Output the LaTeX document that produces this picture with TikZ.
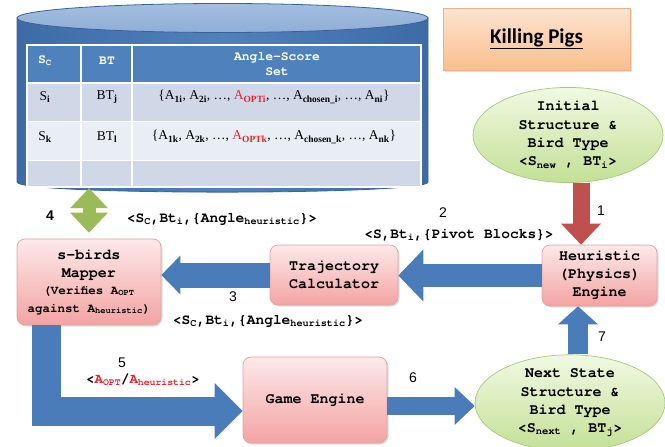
\documentclass[tikz,border=0pt]{standalone}
\usepackage{fontspec}
\setmainfont{TeX Gyre Cursor}
\newfontfamily\rmser{Liberation Serif}
\newfontfamily\sansf{Liberation Sans}
\newfontfamily\calib{Carlito}
\usetikzlibrary{arrows.meta,shadows,calc,shapes.geometric}
\definecolor{cylbody}{HTML}{4F81BD}
\definecolor{cyledge}{HTML}{3A6297}
\definecolor{cyldark}{HTML}{3E6BA6}
\definecolor{cyltop}{HTML}{A3BEE0}
\definecolor{cyltopb}{HTML}{8FAED6}
\definecolor{hdrblue}{HTML}{4F81BD}
\definecolor{rowa}{HTML}{D0D8E8}
\definecolor{rowb}{HTML}{E9EDF4}
\definecolor{pinktop}{HTML}{FDE9E9}
\definecolor{pinkbot}{HTML}{F3A3A3}
\definecolor{pinkedge}{HTML}{E0A2A2}
\definecolor{greentop}{HTML}{F1F9E2}
\definecolor{greenbot}{HTML}{C3E096}
\definecolor{greenedge}{HTML}{A9C77C}
\definecolor{arrblue}{HTML}{4A7CBA}
\definecolor{arrred}{HTML}{C0504D}
\definecolor{arrgreen}{HTML}{9BBB59}
\definecolor{optred}{HTML}{E3262E}
\definecolor{pigtop}{HTML}{FDE4D0}
\definecolor{pigbot}{HTML}{F9BE8E}
\definecolor{pigedge}{HTML}{F2B184}
\newcommand\sbs[1]{\textsubscript{#1}}
\begin{document}
\begin{tikzpicture}[x=1pt,y=-1pt,
  pinkbox/.style={draw=pinkedge, line width=0.7pt, rounded corners=8pt,
    top color=pinktop, bottom color=pinkbot, align=center, inner sep=0pt,
    font=\bfseries\fontsize{15}{18}\selectfont,
    drop shadow={opacity=0.25, shadow xshift=1.5pt, shadow yshift=-1.5pt}},
  greenell/.style={ellipse, draw=greenedge, line width=0.7pt, top color=greentop,
    bottom color=greenbot, align=center, inner sep=0pt,
    font=\bfseries\fontsize{15}{18.3}\selectfont},
  lbl/.style={font=\bfseries\fontsize{14.5}{16}\selectfont, inner sep=0pt},
  num/.style={font=\sansf\fontsize{14}{16}\selectfont, inner sep=0pt},
  hdr/.style={font=\bfseries\fontsize{13}{15}\selectfont, text=white, inner sep=0pt, align=center},
  cell/.style={font=\rmser\fontsize{13.5}{15}\selectfont, inner sep=0pt}
]
\useasboundingbox (0,0) rectangle (665,447);
% cylinder
\path[draw=cyledge, line width=0.8pt, left color=cyldark, right color=cyldark, middle color=cylbody]
  (17,18) -- (17,182) .. controls (17,195.5) and (428,195.5) .. (428,182) -- (428,18) -- cycle;
\path[draw=cyledge, line width=0.8pt, top color=cyltop, bottom color=cyltopb] (222.5,18) ellipse [x radius=205.5, y radius=14.5];
% table
\node[minimum width=394, minimum height=142, inner sep=0pt] (tbl) at (224,116) {};
\fill[hdrblue] (27,45) rectangle (421,83);
\fill[rowa] (27,83) rectangle (421,121);
\fill[rowb] (27,121) rectangle (421,160);
\fill[rowa] (27,160) rectangle (421,187);
\draw[white, line width=1.2pt] (27,45) rectangle (421,187);
\draw[white, line width=1.2pt] (81,45) -- (81,187) (132,45) -- (132,187);
\draw[white, line width=2pt] (27,83) -- (421,83);
\draw[white, line width=1pt] (27,121) -- (421,121) (27,160) -- (421,160);
\node[hdr] (hsc) at (45,61) {S\sbs{C}};
\node[hdr] (hbt) at (107,61) {BT};
\node[hdr] (has) at (277,64) {Angle-Score\\Set};
\node[cell] (c11) at (45,97) {S\sbs{\textbf{i}}};
\node[cell] (c12) at (107,97) {BT\sbs{\textbf{j}}};
\node[cell] (c13) at (274,97) {\{A\sbs{\textbf{1i}}, A\sbs{\textbf{2i}}, …, \textcolor{optred}{A\sbs{\textbf{OPTi}}}, …, A\sbs{\textbf{chosen\_i}}, …, A\sbs{\textbf{ni}}\}};
\node[cell] (c21) at (45,137) {S\sbs{\textbf{k}}};
\node[cell] (c22) at (107,137) {BT\sbs{\textbf{l}}};
\node[cell] (c23) at (274,137) {\{A\sbs{\textbf{1k}}, A\sbs{\textbf{2k}}, …, \textcolor{optred}{A\sbs{\textbf{OPTk}}}, …, A\sbs{\textbf{chosen\_k}}, …, A\sbs{\textbf{nk}}\}};
% title
\node[draw=pigedge, line width=0.6pt, top color=pigtop, bottom color=pigbot,
  minimum width=187, minimum height=62, inner sep=0pt,
  drop shadow={opacity=0.25, shadow xshift=2pt, shadow yshift=-2pt},
  font=\calib\bfseries\fontsize{21}{24}\selectfont] (pigs) at (536.5,39) {\underline{Killing Pigs}};
% nodes
\node[greenell, minimum width=190, minimum height=70] (init) at (568,135)
  {Initial\\Structure \&\\Bird Type\\<S\sbs{new} , BT\sbs{i}>};
\node[pinkbox, minimum width=115, minimum height=61] (heur) at (599.5,275.5)
  {Heuristic\\(Physics)\\Engine};
\node[pinkbox, minimum width=128, minimum height=60] (traj) at (334,275)
  {Trajectory\\Calculator};
\node[pinkbox, minimum width=144, minimum height=86] (sbirds) at (89,282)
  {s-birds\\Mapper\\[-1pt]{\fontsize{12.5}{15}\selectfont (Verifies A\sbs{OPT}}\\{\fontsize{12.5}{15}\selectfont against A\sbs{heuristic})}};
\node[pinkbox, minimum width=144, minimum height=86] (game) at (315,400) {Game Engine};
\node[greenell, minimum width=190, minimum height=84] (next) at (570,403)
  {Next State\\Structure \&\\Bird Type\\<S\sbs{next} , BT\sbs{j}>};
% arrows
\coordinate (a1s) at ([xshift=13pt]init.south);
\draw[arrred, line width=17pt, -{Triangle[length=21pt,width=40pt,line width=0pt]}]
  (a1s) -- (a1s |- heur.north);
\draw[arrblue, line width=23pt, -{Triangle[length=25pt,width=52pt,line width=0pt]}]
  (heur.west) -- (heur.west -| traj.east);
\draw[arrblue, line width=25pt, -{Triangle[length=19pt,width=39pt,line width=0pt]}]
  (traj.west) -- (traj.west -| sbirds.east);
\draw[arrgreen, line width=13pt, {Triangle[length=20pt,width=38pt,line width=0pt]}-{Triangle[length=20pt,width=38pt,line width=0pt]},
  shorten >=6pt, shorten <=1pt]
  (sbirds.north |- tbl.south) -- (sbirds.north);
\coordinate (a5s) at ([xshift=-42.5pt]sbirds.south);
\coordinate (a5e) at ([yshift=-11pt]game.west);
\draw[arrblue, line width=29pt, line join=miter, -{Triangle[length=28pt,width=56pt,line width=0pt]}]
  (a5s) |- (a5e);
\coordinate (a6s) at ([yshift=-6pt]game.east);
\draw[arrblue, line width=18pt, -{Triangle[length=20pt,width=38pt,line width=0pt]}]
  (a6s) -- (a6s -| next.west);
\coordinate (a7s) at ([xshift=8pt]next.north);
\draw[arrblue, line width=20pt, -{Triangle[length=18pt,width=40pt,line width=0pt]}]
  (a7s) -- (a7s |- heur.south);
% labels
\node[num, font=\sansf\bfseries\fontsize{14}{16}\selectfont] (n4) at (50,216) {4};
\node[lbl] (l4) at (222,219) {<S\sbs{C},Bt\sbs{i},\{Angle\sbs{heuristic}\}>};
\node[num] (n2) at (443,213) {2};
\node[lbl] (l2) at (459,235) {<S,Bt\sbs{i},\{Pivot Blocks\}>};
\node[num] (n1) at (601,211) {1};
\node[num] (n3) at (233,297) {3};
\node[lbl] (l3) at (268,321) {<S\sbs{C},Bt\sbs{i},\{Angle\sbs{heuristic}\}>};
\node[num] (n7) at (602,337) {7};
\node[num] (n5) at (122,363) {5};
\node[lbl, font=\bfseries\fontsize{14}{16}\selectfont] (l5) at (143,380)
  {<\textcolor{optred}{A\sbs{OPT}}/\textcolor{optred}{A\sbs{heuristic}}>};
\node[num] (n6) at (413,378) {6};
\end{tikzpicture}
\end{document}
